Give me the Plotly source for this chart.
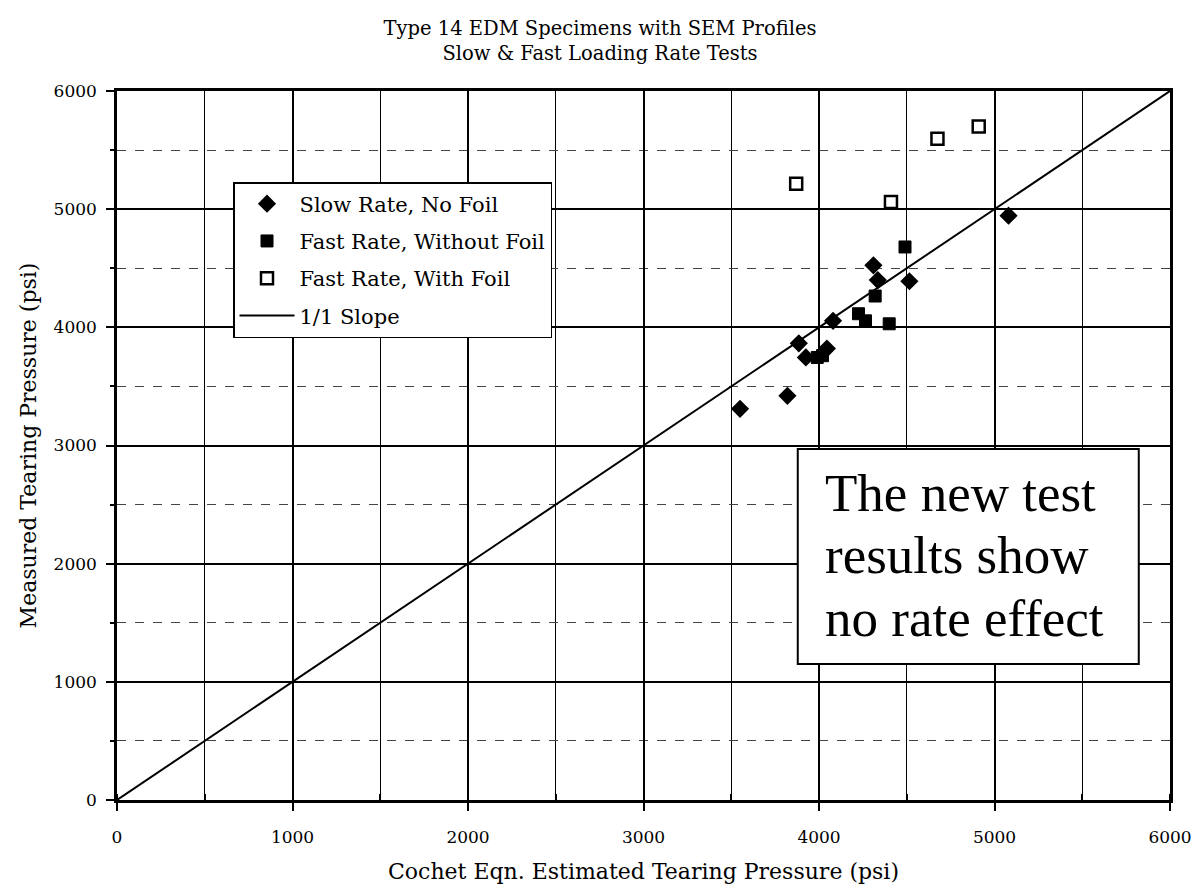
import plotly.graph_objects as go

# ---- data ----
slow_x = [3550, 3820, 3885, 3925, 4045, 4080, 4310, 4335, 4515, 5080]
slow_y = [3310, 3420, 3865, 3745, 3820, 4055, 4525, 4400, 4390, 4945]

fast_nofoil_x = [3990, 4020, 4225, 4265, 4320, 4400, 4490]
fast_nofoil_y = [3745, 3760, 4115, 4055, 4265, 4030, 4680]

fast_foil_x = [3870, 4410, 4675, 4910]
fast_foil_y = [5215, 5060, 5595, 5700]

slope_x = [0, 6000]
slope_y = [0, 6000]

title_lines = ["Type 14 EDM Specimens with SEM Profiles", "Slow & Fast Loading Rate Tests"]
note_lines = ["The new test", "results show", "no rate effect"]

SERIF = "DejaVu Serif"
W, H = 1201, 891
fig = go.Figure()

fig.add_trace(go.Scatter(x=slope_x, y=slope_y, mode="lines", name="1/1 Slope",
                         line=dict(color="black", width=2), legendrank=4,
                         legendgroup="d"))
fig.add_trace(go.Scatter(x=slow_x, y=slow_y, mode="markers", name="Slow Rate, No Foil",
                         marker=dict(symbol="diamond", size=14, color="black"),
                         legendrank=1, legendgroup="a"))
fig.add_trace(go.Scatter(x=fast_nofoil_x, y=fast_nofoil_y, mode="markers",
                         name="Fast Rate, Without Foil",
                         marker=dict(symbol="square", size=12, color="black",
                                     line=dict(color="black", width=1)),
                         legendrank=2, legendgroup="b"))
fig.add_trace(go.Scatter(x=fast_foil_x, y=fast_foil_y, mode="markers",
                         name="Fast Rate, With Foil",
                         marker=dict(symbol="square", size=12, color="white",
                                     line=dict(color="black", width=2.5)),
                         legendrank=3, legendgroup="c"))

# note box
fig.add_shape(type="rect", x0=3879, x1=5822, y0=1151, y1=2970,
              line=dict(color="black", width=2), fillcolor="white", layer="above")
for txt, yy in zip(note_lines, [2598, 2073, 1540]):
    fig.add_annotation(x=4022, y=yy, text=txt, showarrow=False, xanchor="left",
                       yanchor="middle",
                       font=dict(family="Liberation Serif", size=53, color="black"))

fig.update_layout(
    width=W, height=H,
    paper_bgcolor="white", plot_bgcolor="white",
    margin=dict(l=109, r=W - 109 - 1053, t=83, b=H - 83 - 709),
    title=dict(text="<br>".join(title_lines), x=(600 - 8) / W, xanchor="center",
               xref="container",
               y=0.9697, yanchor="top",
               font=dict(family=SERIF, size=19.5, color="black")),
    showlegend=True,
    legend=dict(x=(233 - 117) / 1053, y=(800 - 182) / 709, xanchor="left", yanchor="top",
                bgcolor="white", bordercolor="black", borderwidth=1.5,
                font=dict(family=SERIF, size=21, color="black"),
                tracegroupgap=7, itemwidth=55),
    font=dict(family=SERIF, color="black"),
)

fig.update_xaxes(
    range=[0, 6000], dtick=1000, tick0=0,
    showgrid=True, gridcolor="black", gridwidth=2,
    minor=dict(dtick=500, showgrid=True, gridcolor="black", gridwidth=1,
               ticks="inside", ticklen=6, tickcolor="black"),
    ticks="outside", ticklen=8, tickcolor="black", tickwidth=1.5,
    ticklabelstandoff=12,
    showline=True, linecolor="black", linewidth=2.5, mirror=True,
    zeroline=False,
    tickfont=dict(family=SERIF, size=17, color="black"),
    title=dict(text="Cochet Eqn. Estimated Tearing Pressure (psi)", standoff=18,
               font=dict(family=SERIF, size=22, color="black")),
)
fig.update_yaxes(
    range=[0, 6000], dtick=1000, tick0=0,
    showgrid=True, gridcolor="black", gridwidth=1.5,
    minor=dict(dtick=500, showgrid=True, gridcolor="#444444", gridwidth=1,
               griddash="dash", ticks="outside", ticklen=4, tickcolor="black"),
    ticks="outside", ticklen=8, tickcolor="black", tickwidth=1.5,
    ticklabelstandoff=6,
    showline=True, linecolor="black", linewidth=2.5, mirror=True,
    zeroline=False,
    tickfont=dict(family=SERIF, size=17, color="black"),
    title=dict(text="Measured Tearing Pressure (psi)", standoff=11,
               font=dict(family=SERIF, size=22, color="black")),
)

fig.write_html("out.html")
